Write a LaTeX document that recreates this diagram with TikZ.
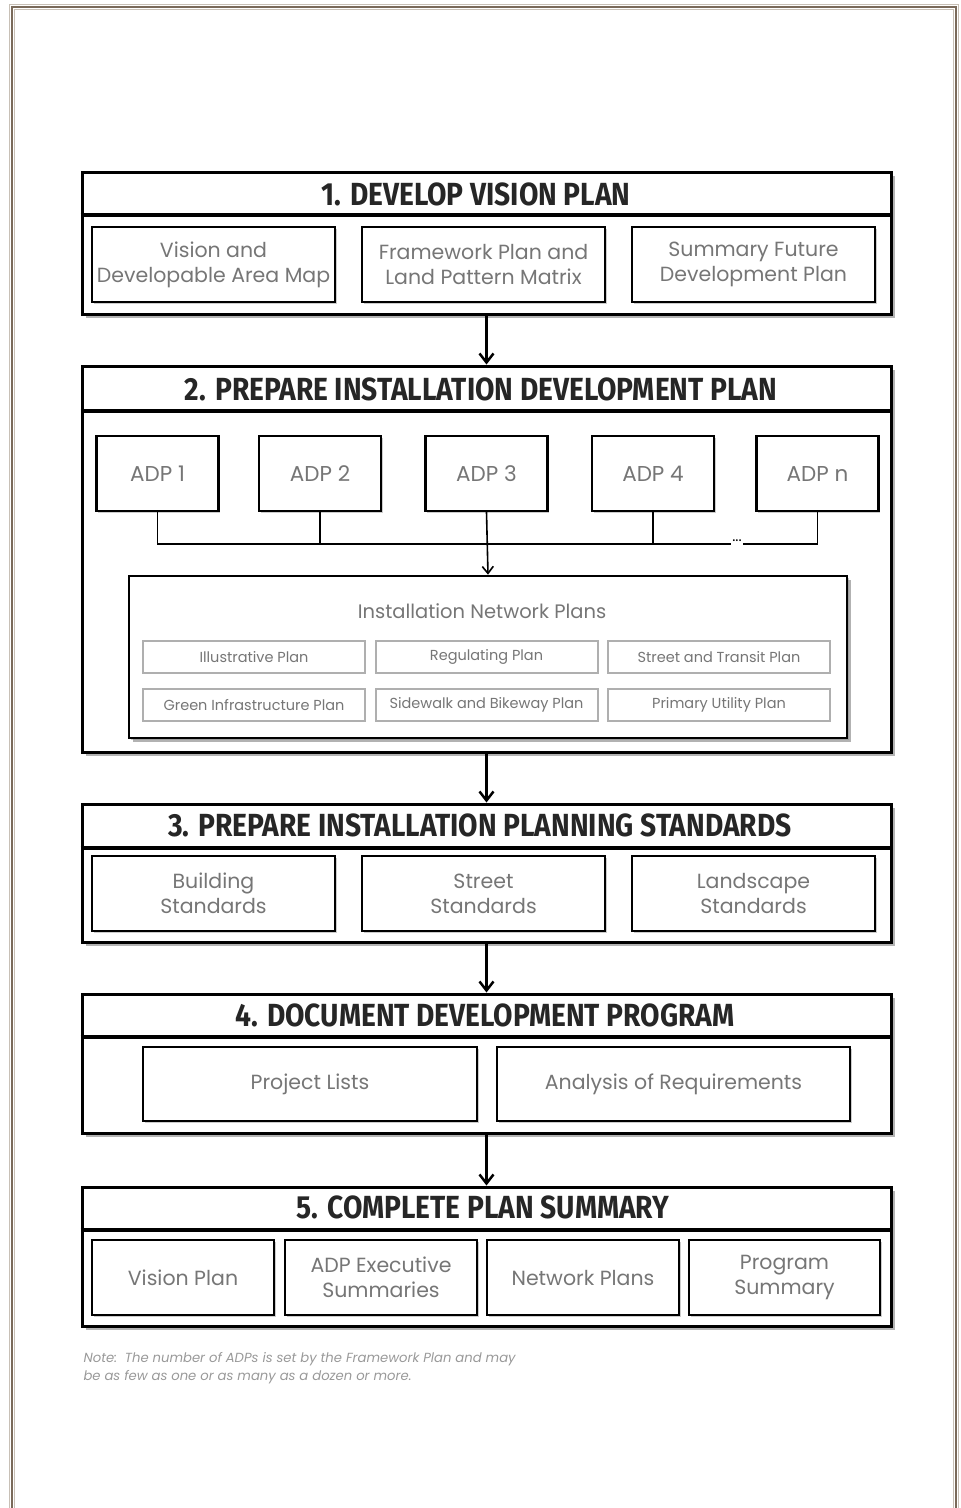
\documentclass[tikz,border=0pt]{standalone}
\usepackage{fontspec}
\setmainfont{Poppins}
\newfontfamily\headfont[FakeStretch=0.88]{Fira Sans}
\usetikzlibrary{arrows.meta,shadows}

\definecolor{textgray}{RGB}{118,118,118}
\definecolor{lightline}{RGB}{175,175,175}
\definecolor{framedark}{RGB}{122,106,90}
\definecolor{framelight}{RGB}{200,192,182}

\tikzset{
  section/.style={draw, line width=3pt, fill=white, inner sep=0pt,
    drop shadow={shadow xshift=3.5pt, shadow yshift=-3.5pt, opacity=0.6}},
  headtext/.style={font=\headfont\bfseries\fontsize{32}{34}\selectfont, text=black!85},
  band/.style={line width=4pt},
  subbox/.style={draw, line width=2.6pt, fill=white, inner sep=0pt, align=center,
    text=textgray, font=\fontsize{20.5}{25}\selectfont,
    drop shadow={shadow xshift=1.5pt, shadow yshift=-1.5pt, opacity=0.4}},
  adpbox/.style={subbox, line width=2.2pt, minimum width=122pt, minimum height=75pt,
    font=\fontsize{21.5}{25}\selectfont},
  netbox/.style={draw=lightline, line width=2pt, fill=white, inner sep=0pt,
    minimum width=222pt, minimum height=32pt, text=textgray,
    font=\fontsize{14.5}{16}\selectfont},
  conn/.style={line width=1.6pt},
  flow/.style={line width=2.5pt, -{Straight Barb[length=9pt,width=14pt]}},
  note/.style={font=\itshape\fontsize{13.2}{18}\selectfont, text=black!40, align=left}
}

\begin{document}
\begin{tikzpicture}[x=1pt,y=-1pt]
    \useasboundingbox (0,0) rectangle (961,1508);

    % marco
    \draw[framedark, line width=1.6pt] (12,1512) -- (12,7) -- (956,7) -- (956,1512);
    \draw[framelight, line width=1.2pt] (14.8,1512) -- (14.8,9.6) -- (953.4,9.6) -- (953.4,1512);
    \draw[framelight, line width=1pt] (958.6,1512) -- (958.6,4.5) -- (9.5,4.5) -- (9.5,1512);

    % 1. vision plan
    \node[section, minimum width=809pt, minimum height=142pt] (s1) at (486.5,243) {};
    \node[headtext] (t1) at (476,194) {1. DEVELOP VISION PLAN};
    \draw[band] (s1.west |- 0,215) -- (s1.east |- 0,215);
    \node[subbox, minimum width=243pt, minimum height=75pt] (v1) at (213.5,264.5) {Vision and\\Developable Area Map};
    \node[subbox, minimum width=243pt, minimum height=75pt] (v2) at (483.5,264.5) {Framework Plan and\\Land Pattern Matrix};
    \node[subbox, minimum width=243pt, minimum height=75pt] (v3) at (753.5,264.5) {Summary Future\\Development Plan};

    % 2. installation development plan
    \node[section, minimum width=809pt, minimum height=386pt] (s2) at (486.5,559) {};
    \node[headtext] (t2) at (481,389) {2. PREPARE INSTALLATION DEVELOPMENT PLAN};
    \draw[band] (s2.west |- 0,411) -- (s2.east |- 0,411);
    \node[adpbox] (adp1) at (157.5,473.5) {ADP 1};
    \node[adpbox] (adp2) at (320,473.5) {ADP 2};
    \node[adpbox] (adp3) at (486.5,473.5) {ADP 3};
    \node[adpbox] (adp4) at (653,473.5) {ADP 4};
    \node[adpbox] (adpn) at (817.5,473.5) {ADP n};

    \coordinate (bus) at (487,544);
    \node[font=\fontsize{15}{15}\selectfont, inner sep=1.5pt] (dots) at (737,541) {...};
    \draw[conn] (adp1.south) -- (adp1.south |- bus) -- (dots.west |- bus);
    \draw[conn] (adp2.south) -- (adp2.south |- bus);
    \draw[conn] (adp4.south) -- (adp4.south |- bus);
    \draw[conn] (dots.east |- bus) -- (adpn.south |- bus) -- (adpn.south);

    \node[section, line width=2.6pt, minimum width=718pt, minimum height=162pt,
      drop shadow={shadow xshift=1.5pt, shadow yshift=-1.5pt, opacity=0.4}] (net) at (488,657) {};
    \draw[conn, -{Straight Barb[length=7pt,width=11pt]}] (adp3.south) -- (net.north);
    \node[text=textgray, font=\fontsize{19.5}{20}\selectfont] (nettitle) at (482,611) {Installation Network Plans};
    \node[netbox] (n1) at (254,657) {Illustrative Plan};
    \node[netbox] (n2) at (486.5,657) {Regulating Plan};
    \node[netbox] (n3) at (719,657) {Street and Transit Plan};
    \node[netbox] (n4) at (254,705) {Green Infrastructure Plan};
    \node[netbox] (n5) at (486.5,705) {Sidewalk and Bikeway Plan};
    \node[netbox] (n6) at (719,705) {Primary Utility Plan};

    % 3. planning standards
    \node[section, minimum width=809pt, minimum height=138pt] (s3) at (486.5,873) {};
    \node[headtext] (t3) at (480,825) {3. PREPARE INSTALLATION PLANNING STANDARDS};
    \draw[band] (s3.west |- 0,848) -- (s3.east |- 0,848);
    \node[subbox, minimum width=243pt, minimum height=75pt] (b1) at (213.5,893.5) {Building\\Standards};
    \node[subbox, minimum width=243pt, minimum height=75pt] (b2) at (483.5,893.5) {Street\\Standards};
    \node[subbox, minimum width=243pt, minimum height=75pt] (b3) at (753.5,893.5) {Landscape\\Standards};

    % 4. development program
    \node[section, minimum width=809pt, minimum height=139pt] (s4) at (486.5,1063.5) {};
    \node[headtext] (t4) at (485,1015) {4. DOCUMENT DEVELOPMENT PROGRAM};
    \draw[band] (s4.west |- 0,1037) -- (s4.east |- 0,1037);
    \node[subbox, minimum width=334pt, minimum height=74pt] (p1) at (310,1084) {Project Lists};
    \node[subbox, minimum width=353pt, minimum height=74pt] (p2) at (673.5,1084) {Analysis of Requirements};

    % 5. plan summary
    \node[section, minimum width=809pt, minimum height=139pt] (s5) at (486.5,1256.5) {};
    \node[headtext] (t5) at (483,1207) {5. COMPLETE PLAN SUMMARY};
    \draw[band] (s5.west |- 0,1230) -- (s5.east |- 0,1230);
    \node[subbox, minimum width=182pt, minimum height=75pt] (c1) at (183,1277.5) {Vision Plan};
    \node[subbox, minimum width=192pt, minimum height=75pt] (c2) at (381,1277.5) {ADP Executive\\Summaries};
    \node[subbox, minimum width=192pt, minimum height=75pt] (c3) at (583,1277.5) {Network Plans};
    \node[subbox, minimum width=191pt, minimum height=75pt] (c4) at (784.5,1277.5) {Program\\Summary};

    % flechas
    \draw[flow] (s1.south) -- (s2.north);
    \draw[flow] (s2.south) -- (s3.north);
    \draw[flow] (s3.south) -- (s4.north);
    \draw[flow] (s4.south) -- (s5.north);

    \node[note, anchor=north west] (note) at (80,1349) {Note:\ \ The number of ADPs is set by the Framework Plan and may\\be as few as one or as many as a dozen or more.};
\end{tikzpicture}
\end{document}
